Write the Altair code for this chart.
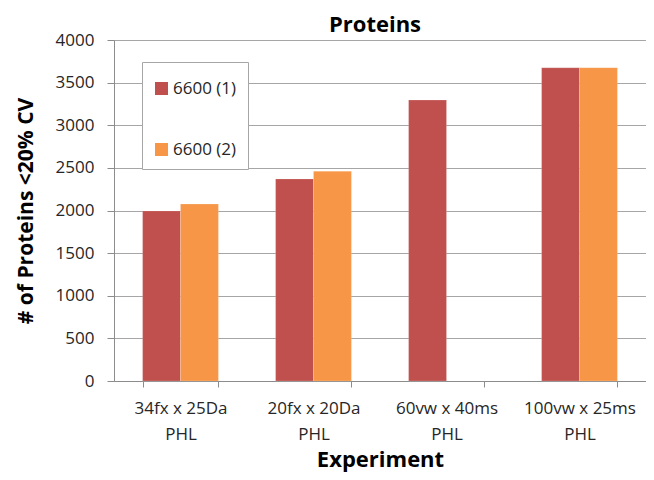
import altair as alt
import pandas as pd

categories = ["34fx x 25Da|PHL", "20fx x 20Da|PHL", "60vw x 40ms|PHL", "100vw x 25ms|PHL"]
series_1 = [1995, 2370, 3295, 3675]
series_2 = [2075, 2460, None, 3675]
series_names = ["6600 (1)", "6600 (2)"]
colors = ["#C0504D", "#F79646"]

rows = []
for c, v1, v2 in zip(categories, series_1, series_2):
    for name, v in zip(series_names, [v1, v2]):
        if v is not None:
            rows.append({"Experiment": c, "Series": name, "Value": v})
df = pd.DataFrame(rows)

FONT = "Open Sans"

bars = alt.Chart(df).mark_bar(stroke="#ffffff", strokeOpacity=0.35, strokeWidth=0.5).encode(
    x=alt.X("Experiment:N", sort=categories,
            scale=alt.Scale(paddingInner=0.43, paddingOuter=0.215),
            axis=alt.Axis(title="Experiment", labelExpr="split(datum.label, '|')",
                          labelAngle=0, tickBand="extent", tickSize=6,
                          labelPadding=13, labelLineHeight=26,
                          domainColor="#8c8c8c", tickColor="#8c8c8c",
                          labelFontSize=17, labelColor="#262626", labelFont=FONT,
                          titleFontSize=22, titleFont=FONT, titleFontWeight="bold",
                          titlePadding=7, titleColor="#000000", grid=False)),
    xOffset=alt.XOffset("Series:N", sort=series_names, scale=alt.Scale(domain=series_names)),
    y=alt.Y("Value:Q", scale=alt.Scale(domain=[0, 4000], nice=False),
            axis=alt.Axis(title="# of Proteins <20% CV", values=list(range(0, 4001, 500)),
                          format="d",
                          tickSize=7, labelPadding=13, gridColor="#a6a6a6", gridWidth=1,
                          domainColor="#8c8c8c", tickColor="#8c8c8c",
                          labelFontSize=17, labelColor="#262626", labelFont=FONT,
                          titleFontSize=21, titleFont=FONT, titleFontWeight="bold",
                          titlePadding=19, titleColor="#000000")),
    color=alt.Color("Series:N", sort=series_names,
                    scale=alt.Scale(domain=series_names, range=colors),
                    legend=alt.Legend(title="\u00a0", titleFontSize=6, titlePadding=1,
                                      orient="none", legendX=28, legendY=22,
                                      symbolType="square", symbolSize=170,
                                      symbolStrokeWidth=0, labelFontSize=17,
                                      labelFont=FONT, labelColor="#262626",
                                      rowPadding=43, padding=11,
                                      strokeColor="#a6a6a6", fillColor="#ffffff",
                                      labelOffset=3)),
)

chart = bars.properties(
    width=532, height=341,
    title=alt.TitleParams("Proteins", fontSize=22, font=FONT, fontWeight="bold",
                          color="#000000", anchor="middle", dx=-5, dy=6, offset=0),
    autosize=alt.AutoSizeParams(type="none"),
    padding={"left": 106, "top": 32, "right": 0, "bottom": 91},
).configure_view(stroke=None).configure(background="#ffffff")

chart.save("out.html", embed_options={"renderer": "svg", "actions": False})
